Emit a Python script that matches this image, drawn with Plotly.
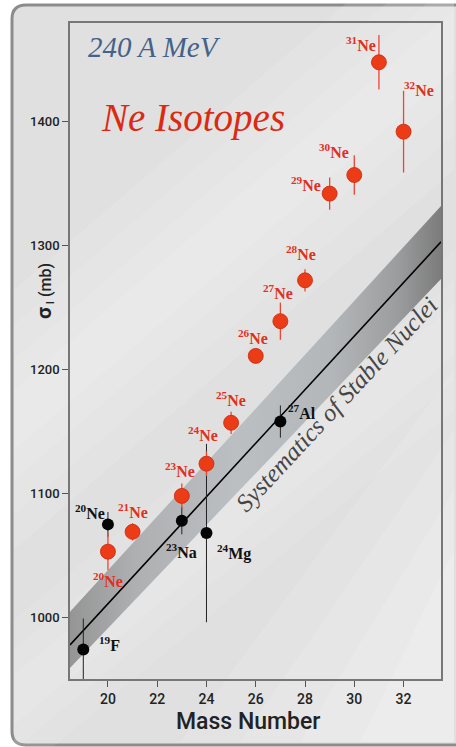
import plotly.graph_objects as go

# ---------------- data ----------------
ne_mass = [20, 21, 23, 24, 25, 26, 27, 28, 29, 30, 31, 32]
ne_sigma = [1053, 1069, 1098, 1124, 1157, 1211, 1239, 1272, 1342, 1357, 1448, 1392]
ne_err = [15, 7, 10, 10, 9, 5, 15, 9, 13, 16, 22, 33]

stable_names = ["F", "Ne", "Na", "Mg", "Al"]
stable_mass = [19, 20, 23, 24, 27]
stable_sigma = [974, 1075, 1078, 1068, 1158]
stable_err = [25, 10, 11, 72, 13]

sys_mass = [18.46, 33.52]          # systematics of stable nuclei (line end points)
sys_sigma = [977.6, 1303.0]
sys_lo = [959.0, 1273.0]           # band edges at the end points
sys_hi = [1004.5, 1332.0]

x_ticks = [20, 22, 24, 26, 28, 30, 32]
y_ticks = [1000, 1100, 1200, 1300, 1400]

# ---------------- layout constants ----------------
W, H = 456, 747
ML, MR, MT, MB = 70, 15, 23, 68
PW, PH = W - ML - MR, H - MT - MB


def px2paper(px, py):
    return (px - ML) / PW, (H - MB - py) / PH


# label offsets (pixels) for each labelled point: dx, dy (down positive)
ne_label_off = {20: (0, 28), 21: (0, -21), 23: (-2, -26), 24: (-3, -30), 25: (0, -24),
                26: (-3, -19), 27: (-2, -29), 28: (-4, -27), 29: (-24, -10),
                30: (-20, -24), 31: (-18, -18), 32: (15, -43)}
st_label_off = {19: (26, -6), 20: (-18, -12), 23: (0, 30), 24: (28, 19), 27: (22, -10)}

RED = "#e0301e"

fig = go.Figure()

# band with horizontal gradient
fig.add_trace(go.Scatter(
    x=sys_mass + sys_mass[::-1], y=sys_hi + sys_lo[::-1],
    fill="toself", mode="lines", line=dict(width=0),
    fillgradient=dict(type="horizontal",
                      colorscale=[[0, "#959595"], [0.18, "#aeb0b2"], [0.45, "#bcbfc2"],
                                  [0.7, "#b4b7ba"], [0.88, "#9c9d9e"], [1, "#7c7c7c"]]),
    hoverinfo="skip", showlegend=False))

fig.add_trace(go.Scatter(x=sys_mass, y=sys_sigma, mode="lines",
                         line=dict(color="#000000", width=1.6),
                         hoverinfo="skip", showlegend=False))

# stable nuclei
fig.add_trace(go.Scatter(
    x=stable_mass, y=stable_sigma, mode="markers",
    marker=dict(size=12, color="#050505"),
    error_y=dict(type="data", array=stable_err, color="#222222", thickness=1, width=0),
    showlegend=False))

# Ne isotopes
fig.add_trace(go.Scatter(
    x=ne_mass, y=ne_sigma, mode="markers",
    marker=dict(size=15, color="#ec3b17", line=dict(width=0.8, color="#c8280a")),
    error_y=dict(type="data", array=ne_err, color="#ee4433", thickness=1.3, width=0),
    showlegend=False))

ann = []
for m, s in zip(ne_mass, ne_sigma):
    dx, dy = ne_label_off[m]
    ann.append(dict(x=m, y=s, xref="x", yref="y", xshift=dx, yshift=-dy,
                    text=f"<b><sup>{m}</sup>Ne</b>", showarrow=False,
                    font=dict(family="Liberation Serif", size=16, color=RED),
                    xanchor="center", yanchor="middle"))
for n, m, s in zip(stable_names, stable_mass, stable_sigma):
    dx, dy = st_label_off[m]
    ann.append(dict(x=m, y=s, xref="x", yref="y", xshift=dx, yshift=-dy,
                    text=f"<b><sup>{m}</sup>{n}</b>", showarrow=False,
                    font=dict(family="Liberation Serif", size=16, color="#111111"),
                    xanchor="center", yanchor="middle"))


def txt(px, py, text, size, color, family="Liberation Serif", angle=0, weight="normal"):
    xp, yp = px2paper(px, py)
    ann.append(dict(x=xp, y=yp, xref="paper", yref="paper", text=text, showarrow=False,
                    textangle=angle, xanchor="center", yanchor="middle",
                    font=dict(family=family, size=size, color=color, weight=weight)))


txt(154, 47, "<i>240 A MeV</i>", 29, "#44628a")
txt(193, 118, "<i>Ne Isotopes</i>", 39, "#dc2a12")
txt(336, 404, "<i>Systematics of Stable Nuclei</i>", 25, "#454545", angle=-47)
txt(248, 721, "Mass Number", 23, "#222222", family="Roboto", weight=500)
txt(44, 291, "<span style='font-size:21px'><b>σ</b></span><sub> I</sub> (mb)", 16,
    "#222222", family="Roboto", angle=-90, weight=500)

# panel background (rounded frame) and soft sheen
x0, y0 = px2paper(12, 745)
x1, y1 = px2paper(480, 5)
r = 14
rx, ry = r / PW, r / PH
panel = (f"M {x0+rx} {y0} L {x1-rx} {y0} Q {x1} {y0} {x1} {y0+ry} L {x1} {y1-ry} "
         f"Q {x1} {y1} {x1-rx} {y1} L {x0+rx} {y1} Q {x0} {y1} {x0} {y1-ry} "
         f"L {x0} {y0+ry} Q {x0} {y0} {x0+rx} {y0} Z")
shapes = [dict(type="path", xref="paper", yref="paper", path=panel,
               fillcolor="#e0e0e0", line=dict(color="#8c8c8c", width=3), layer="below")]


def poly(pts, color):
    pp = [px2paper(a, b) for a, b in pts]
    path = "M " + " L ".join(f"{a} {b}" for a, b in pp) + " Z"
    shapes.append(dict(type="path", xref="paper", yref="paper", path=path,
                       fillcolor=color, line=dict(width=0), layer="below"))


def streak(cy_left, cy_right, half, alpha):
    # diagonal streak across the panel, clipped roughly to the panel
    poly([(14, cy_left - half), (454, cy_right - half), (454, cy_right + half),
          (14, cy_left + half)], f"rgba(255,255,255,{alpha})")


for h in (30, 60, 95, 130):
    streak(420, 40, h, 0.10)
for h in (25, 50, 80):
    streak(700, 330, h, 0.08)
# bright lower right corner
for k, a in ((0, 0.12), (60, 0.12), (120, 0.14), (180, 0.16)):
    poly([(180 + k, 742), (454, 370 + k), (454, 742)], f"rgba(255,255,255,{a})")

fig.update_layout(
    width=W, height=H,
    margin=dict(l=ML, r=MR, t=MT, b=MB, pad=0),
    paper_bgcolor="#ffffff", plot_bgcolor="rgba(0,0,0,0)",
    annotations=ann, shapes=shapes,
    xaxis=dict(range=[18.46, 33.52], tickvals=x_ticks, ticks="outside", ticklen=6,
               tickcolor="#555555", showline=True, mirror=True, linecolor="#777777",
               linewidth=1.5, showgrid=False, zeroline=False,
               tickfont=dict(family="Roboto", size=14, color="#222222", weight=500)),
    yaxis=dict(range=[950.2, 1479.7], tickvals=y_ticks, ticks="outside", ticklen=6,
               tickcolor="#555555", showline=True, mirror=True, linecolor="#777777",
               linewidth=1.5, showgrid=False, zeroline=False,
               tickfont=dict(family="Roboto", size=13, color="#222222", weight=500)),
)

fig.write_html("out.html", config={"displayModeBar": False},
               post_script="document.body.style.margin='0px';document.body.style.overflow='hidden';")
